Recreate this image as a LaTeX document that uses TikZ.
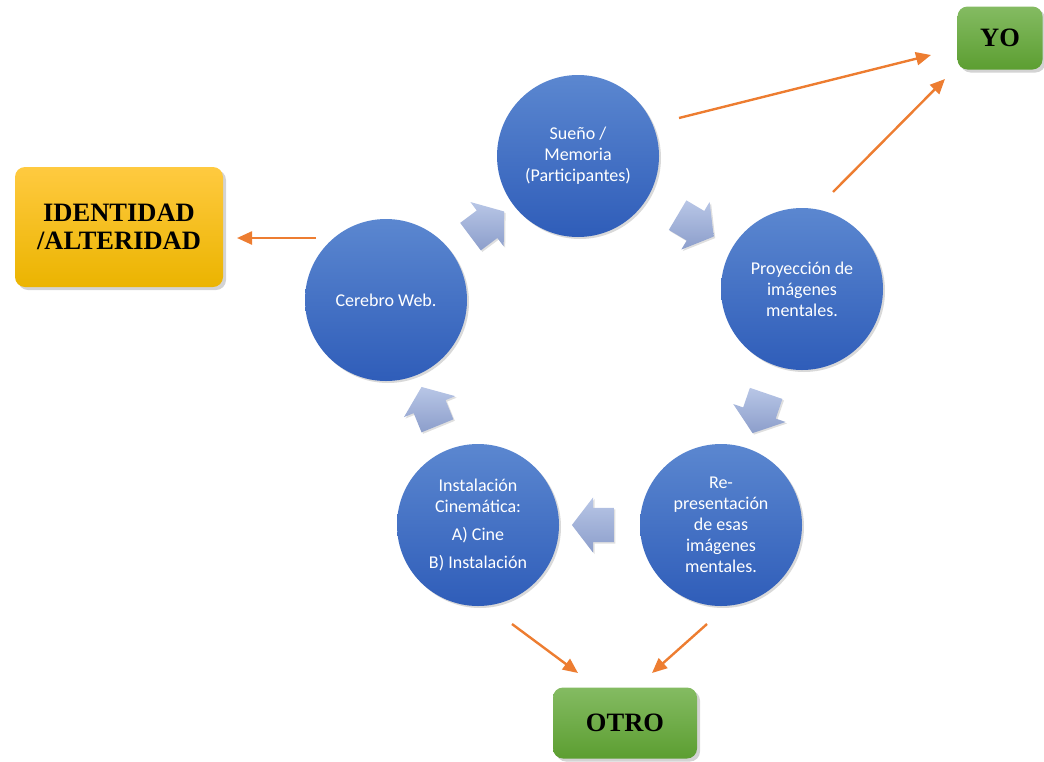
\documentclass[tikz,border=0pt]{standalone}
\usepackage{fontspec}
\setmainfont{Carlito}
\newfontfamily\boxfont{Liberation Serif}
\usetikzlibrary{shapes.arrows,shadows,arrows.meta,calc}

\definecolor{cblue1}{HTML}{5B87D0}
\definecolor{cblue2}{HTML}{2F5DB9}
\definecolor{cpale1}{HTML}{B8C6E6}
\definecolor{cpale2}{HTML}{8C9ECB}
\definecolor{corange}{HTML}{ED7D31}
\definecolor{cgreen1}{HTML}{84BB62}
\definecolor{cgreen2}{HTML}{5C9E31}
\definecolor{cgold1}{HTML}{FFCA40}
\definecolor{cgold2}{HTML}{EBB400}

\tikzstyle{stage} = [circle, minimum size=162pt, inner sep=0pt, top color=cblue1, bottom color=cblue2,
  text=white, align=center, font=\fontsize{18}{21}\selectfont,
  drop shadow={shadow xshift=2pt, shadow yshift=-2pt, opacity=.3}]
\tikzstyle{cyc} = [single arrow, minimum height=42pt, minimum width=55pt, single arrow head extend=10.5pt,
  single arrow tip angle=105, inner xsep=0pt, inner ysep=17pt, top color=cpale1, bottom color=cpale2,
  sloped, allow upside down, drop shadow={shadow xshift=1.5pt, shadow yshift=-1.5pt, opacity=.25}]
\tikzstyle{tag} = [rounded corners=10pt, align=center, text=black,
  font=\boxfont\bfseries\fontsize{26.5}{28}\selectfont,
  drop shadow={shadow xshift=3pt, shadow yshift=-3pt, opacity=.35}]
\tikzstyle{oarrow} = [corange, line width=2.4pt, -{Triangle[length=15pt,width=13pt]}]

\begin{document}
\begin{tikzpicture}[x=1pt, y=-1pt]
\useasboundingbox (0,0) rectangle (1044,761);

% CYCLE
\node[stage] (sueno) at (578,156) {Sueño /\\Memoria\\(Participantes)};
\node[stage] (proy) at (802,289) {Proyección de\\imágenes\\mentales.};
\node[stage] (repres) at (721,525) {Re-\\presentación\\de esas\\imágenes\\mentales.};
\node[stage] (inst) at (478,525) {Instalación\\Cinemática:\\[7pt]A) Cine\\[7pt]B) Instalación};
\node[stage] (cerebro) at (386,300) {Cerebro Web.};

\path (sueno) -- node[cyc] (c1) {} (proy);
\path (proy) -- node[cyc] (c2) {} (repres);
\path (repres) -- node[cyc] (c3) {} (inst);
\path (inst) -- node[cyc] (c4) {} (cerebro);
\path (cerebro) -- node[cyc] (c5) {} (sueno);

% BOXES
\node[tag, top color=cgold1, bottom color=cgold2, minimum width=208pt, minimum height=120pt] (ident) at (119,227) {IDENTIDAD\\/ALTERIDAD};
\node[tag, top color=cgreen1, bottom color=cgreen2, minimum width=85pt, minimum height=63pt] (yo) at (1000,38) {YO};
\node[tag, top color=cgreen1, bottom color=cgreen2, minimum width=144pt, minimum height=71pt] (otro) at (625,723) {OTRO};

% ORANGE ARROWS
\coordinate (sueno-out) at ($(sueno)+(101,-38)$);
\coordinate (yo-in1) at ($(yo)+(-69,17)$);
\coordinate (proy-out) at ($(proy)+(31,-97)$);
\coordinate (yo-in2) at ($(yo)+(-55,41)$);
\coordinate (cerebro-out) at ($(cerebro)+(-70,-62)$);
\coordinate (ident-in) at ($(ident)+(118,11)$);
\coordinate (inst-out) at ($(inst)+(34,99)$);
\coordinate (otro-in1) at ($(otro)+(-47,-50)$);
\coordinate (repres-out) at ($(repres)+(-14,99)$);
\coordinate (otro-in2) at ($(otro)+(27,-50)$);

\draw[oarrow] (sueno-out) -- (yo-in1);
\draw[oarrow] (proy-out) -- (yo-in2);
\draw[oarrow] (cerebro-out) -- (ident-in);
\draw[oarrow] (inst-out) -- (otro-in1);
\draw[oarrow] (repres-out) -- (otro-in2);

\end{tikzpicture}
\end{document}
